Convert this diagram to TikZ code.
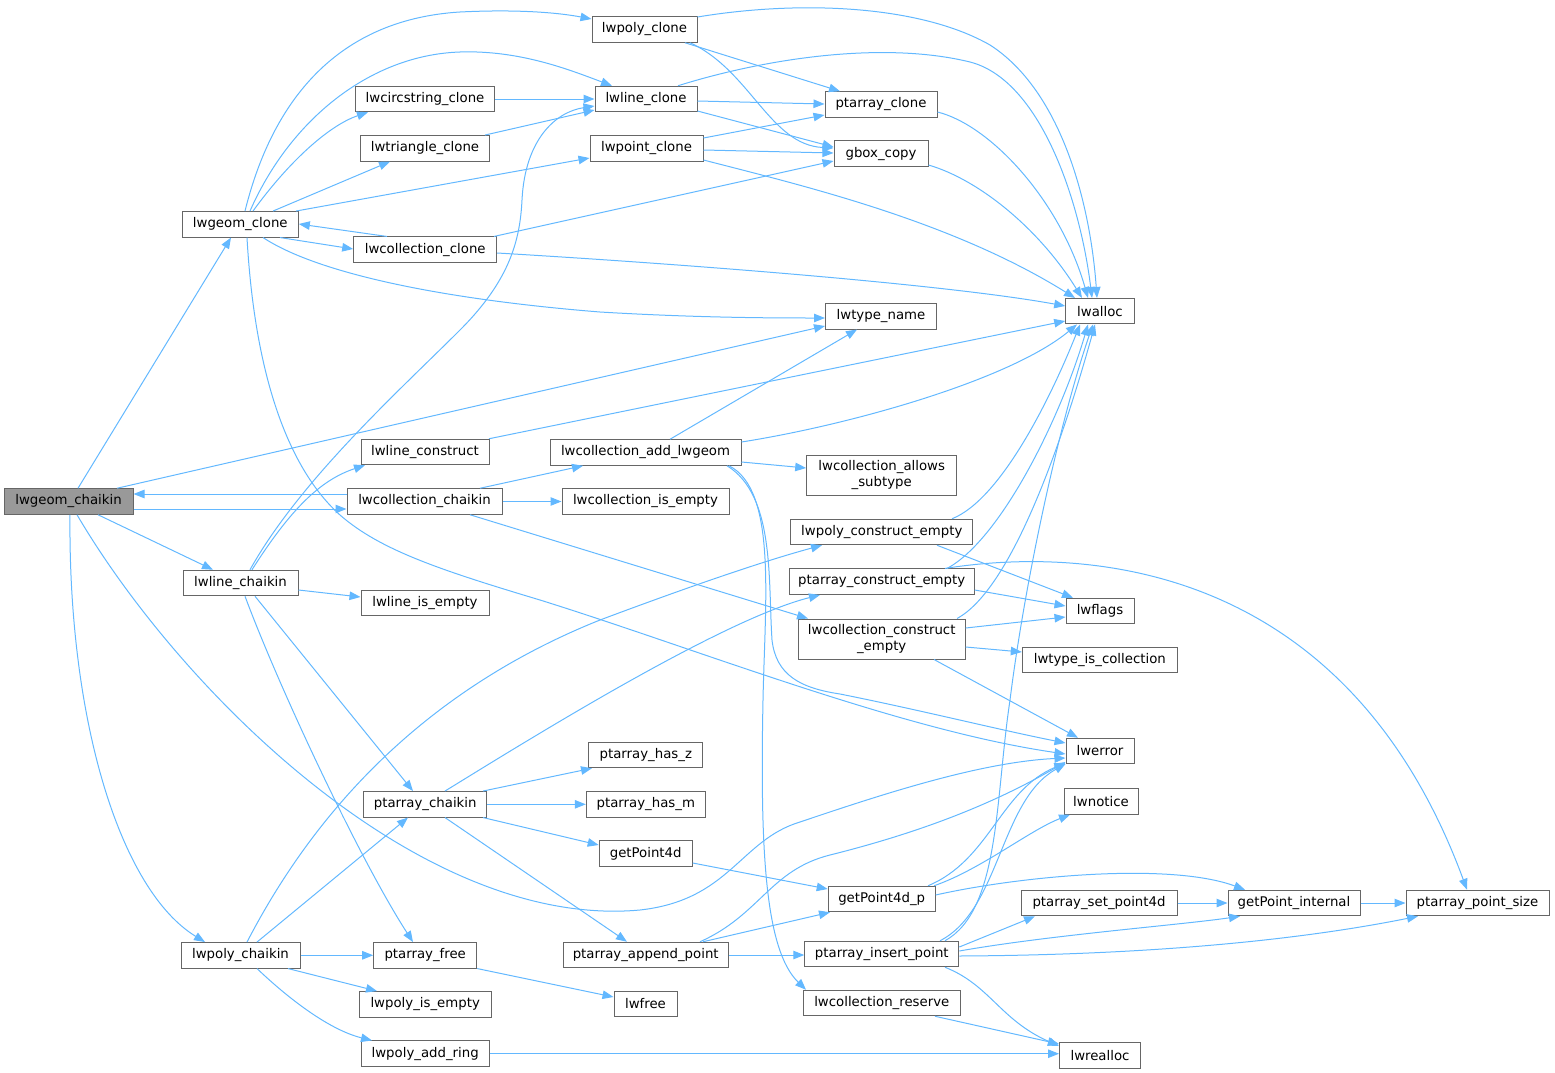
\documentclass[tikz,border=0pt]{standalone}
\usepackage{fontspec}
\setmainfont{DejaVu Sans}
\usetikzlibrary{arrows.meta}
\definecolor{edgec}{HTML}{63B8FF}
\definecolor{boxc}{HTML}{666666}
\definecolor{rootc}{HTML}{999999}
\begin{document}
\begin{tikzpicture}[x=1pt,y=-1pt,
  nb/.style={draw=boxc, fill=white, line width=1pt, minimum height=25.5pt, inner sep=0pt, font=\fontsize{13.3}{15.5}\selectfont, align=center},
  e/.style={draw=edgec, line width=1pt, -{Triangle[length=11pt,width=8.5pt]}}]
\useasboundingbox (0,0) rectangle (1555,1073);
% nodes
\node[nb, fill=rootc, minimum width=129pt] (root) at (68.5,501.5) {lwgeom\_chaikin};
\node[nb, minimum width=116pt] (gclone) at (240.3,224.3) {lwgeom\_clone};
\node[nb, minimum width=115pt] (lchaikin) at (240.5,583) {lwline\_chaikin};
\node[nb, minimum width=119pt] (pchaikin) at (240.5,955.3) {lwpoly\_chaikin};
\node[nb, minimum width=105pt] (polyclone) at (644.5,29.5) {lwpoly\_clone};
\node[nb, minimum width=139pt] (circclone) at (425,99) {lwcircstring\_clone};
\node[nb, minimum width=102pt] (lineclone) at (646,99) {lwline\_clone};
\node[nb, minimum width=129pt] (triclone) at (425,148.3) {lwtriangle\_clone};
\node[nb, minimum width=113pt] (pointclone) at (646.5,148.3) {lwpoint\_clone};
\node[nb, minimum width=143pt] (collclone) at (425.2,249.7) {lwcollection\_clone};
\node[nb, minimum width=112pt] (ptclone) at (881,104.5) {ptarray\_clone};
\node[nb, minimum width=94pt] (gbox) at (881,153.7) {gbox\_copy};
\node[nb, minimum width=111pt] (typename) at (881,316.3) {lwtype\_name};
\node[nb, minimum width=68.6pt] (lwalloc) at (1100,311.2) {lwalloc};
\node[nb, minimum width=128pt] (lconstruct) at (425,452) {lwline\_construct};
\node[nb, minimum width=191pt] (addgeom) at (645.5,452.5) {lwcollection\_add\_lwgeom};
\node[nb, minimum width=150pt, minimum height=40pt] (allows) at (881.7,475) {lwcollection\_allows\\\_subtype};
\node[nb, minimum width=155pt] (cchaikin) at (424.5,501.5) {lwcollection\_chaikin};
\node[nb, minimum width=167pt] (cisempty) at (645.5,501.5) {lwcollection\_is\_empty};
\node[nb, minimum width=182pt] (polyce) at (881.8,532) {lwpoly\_construct\_empty};
\node[nb, minimum width=185pt] (ptce) at (881.7,581.7) {ptarray\_construct\_empty};
\node[nb, minimum width=128pt] (lisempty) at (425,603) {lwline\_is\_empty};
\node[nb, minimum width=68pt] (lwflags) at (1100,611) {lwflags};
\node[nb, minimum width=167pt, minimum height=40pt] (collce) at (881.7,639) {lwcollection\_construct\\\_empty};
\node[nb, minimum width=155pt] (istcoll) at (1099.8,660) {lwtype\_is\_collection};
\node[nb, minimum width=68pt] (lwerror) at (1100,751) {lwerror};
\node[nb, minimum width=114pt] (hasz) at (645.8,755) {ptarray\_has\_z};
\node[nb, minimum width=123pt] (ptchaikin) at (425.2,804.3) {ptarray\_chaikin};
\node[nb, minimum width=119pt] (hasm) at (645.8,804.5) {ptarray\_has\_m};
\node[nb, minimum width=74pt] (lwnotice) at (1101,801.5) {lwnotice};
\node[nb, minimum width=93pt] (getpoint4d) at (645.7,853.5) {getPoint4d};
\node[nb, minimum width=107pt] (gp4dp) at (881.7,899) {getPoint4d\_p};
\node[nb, minimum width=156pt] (setp4d) at (1099,903) {ptarray\_set\_point4d};
\node[nb, minimum width=132pt] (gpinternal) at (1294,903) {getPoint\_internal};
\node[nb, minimum width=143pt] (ptpsize) at (1477.5,903) {ptarray\_point\_size};
\node[nb, minimum width=103pt] (ptfree) at (425.2,955.3) {ptarray\_free};
\node[nb, minimum width=165pt] (appendpt) at (645.7,955) {ptarray\_append\_point};
\node[nb, minimum width=154pt] (insertpt) at (881.8,954) {ptarray\_insert\_point};
\node[nb, minimum width=132pt] (pisempty) at (425.2,1004.3) {lwpoly\_is\_empty};
\node[nb, minimum width=63pt] (lwfree) at (645.5,1004) {lwfree};
\node[nb, minimum width=157pt] (creserve) at (881.8,1003) {lwcollection\_reserve};
\node[nb, minimum width=128pt] (addring) at (425.2,1053.7) {lwpoly\_add\_ring};
\node[nb, minimum width=81pt] (lwrealloc) at (1100,1055.3) {lwrealloc};
% edges
\draw[e] (root.north -| 78,0) -- (gclone.south -| 231,0);
\draw[e] (root.north -| 117,0) -- (typename.west |- 0,326);
\draw[e] (root.east |- 0,509) -- (cchaikin.west |- 0,509);
\draw[e] (cchaikin.west |- 0,494) -- (root.east |- 0,494);
\draw[e] (root.south -| 98,0) -- (lchaikin.north -| 213,0);
\draw[e] (root.south -| 77,0) .. controls (180,690) and (420,930) .. (640,910) .. controls (730,900) and (740,840) .. (800,822) .. controls (880,795) and (980,762) .. (lwerror.west |- 0,758);
\draw[e] (root.south -| 70,0) .. controls (68,720) and (120,890) .. (pchaikin.north -| 205,0);
\draw[e] (gclone.north -| 245,0) .. controls (270,110) and (330,20) .. (460,12) .. controls (520,9) and (560,13) .. (polyclone.west |- 0,19);
\draw[e] (gclone.north -| 250,0) .. controls (290,120) and (370,55) .. (460,52) .. controls (520,50) and (570,70) .. (lineclone.north -| 612,0);
\draw[e] (gclone.north -| 253,0) .. controls (290,160) and (330,125) .. (circclone.south -| 368,0);
\draw[e] (gclone.north -| 273,0) -- (triclone.south -| 390,0);
\draw[e] (gclone.north -| 296,0) -- (pointclone.west |- 0,158);
\draw[e] (gclone.south -| 280,0) -- (collclone.west |- 0,249);
\draw[e] (collclone.north -| 387,0) -- (gclone.east |- 0,224);
\draw[e] (gclone.south -| 263,0) .. controls (320,275) and (450,300) .. (600,312) .. controls (700,318) and (780,318) .. (typename.west |- 0,318);
\draw[e] (gclone.south -| 247,0) .. controls (255,380) and (290,470) .. (340,515) .. controls (380,550) and (440,570) .. (540,600) .. controls (700,650) and (900,730) .. (lwerror.west |- 0,754);
\draw[e] (circclone.east) -- (lineclone.west |- circclone.east);
\draw[e] (triclone.north -| 485,0) -- (lineclone.west |- 0,110);
\draw[e] (lchaikin.north -| 250,0) .. controls (300,480) and (400,390) .. (460,330) .. controls (510,280) and (520,240) .. (522,200) .. controls (525,140) and (555,112) .. (lineclone.west |- 0,106);
\draw[e] (lchaikin.north -| 252,0) .. controls (290,510) and (320,480) .. (lconstruct.south -| 365,0);
\draw[e] (lchaikin.east |- 0,590) -- (lisempty.west |- 0,597);
\draw[e] (lchaikin.south -| 255,0) -- (ptchaikin.north -| 413,0);
\draw[e] (lchaikin.south -| 245,0) .. controls (280,690) and (360,860) .. (ptfree.north -| 413,0);
\draw[e] (lconstruct.north -| 489,0) -- (lwalloc.west |- 0,321);
\draw[e] (cchaikin.north -| 480,0) -- (addgeom.south -| 583,0);
\draw[e] (cchaikin.east) -- (cisempty.west);
\draw[e] (cchaikin.south -| 470,0) -- (collce.north -| 808,0);
\draw[e] (addgeom.north -| 670,0) -- (typename.south -| 857,0);
\draw[e] (addgeom.east |- 0,442) .. controls (850,425) and (1010,380) .. (lwalloc.south -| 1077,0);
\draw[e] (addgeom.east |- 0,462) -- (allows.west |- 0,468);
\draw[e] (addgeom.south -| 727,0) .. controls (775,495) and (768,580) .. (772,640) .. controls (776,675) and (800,688) .. (840,694) .. controls (920,710) and (1000,730) .. (lwerror.west |- 0,743);
\draw[e] (addgeom.south -| 729,0) .. controls (777,490) and (765,600) .. (763,700) .. controls (760,850) and (765,950) .. (creserve.north -| 806,0);
\draw[e] (pchaikin.north -| 247,0) .. controls (300,840) and (400,700) .. (600,620) .. controls (680,590) and (760,562) .. (polyce.south -| 822,0);
\draw[e] (pchaikin.north -| 257,0) -- (ptchaikin.south -| 408,0);
\draw[e] (pchaikin.east) -- (ptfree.west);
\draw[e] (pchaikin.south -| 288,0) -- (pisempty.north -| 377,0);
\draw[e] (pchaikin.south -| 257,0) .. controls (290,1000) and (330,1030) .. (addring.north -| 372,0);
\draw[e] (addring.east) -- (lwrealloc.west |- addring.east);
\draw[e] (ptfree.south east) -- (lwfree.west |- 0,997);
\draw[e] (ptchaikin.north -| 445,0) .. controls (520,745) and (720,620) .. (ptce.south -| 820,0);
\draw[e] (ptchaikin.north -| 483,0) -- (hasz.south -| 592,0);
\draw[e] (ptchaikin.east) -- (hasm.west |- ptchaikin.east);
\draw[e] (ptchaikin.south -| 483,0) -- (getpoint4d.west |- 0,845);
\draw[e] (ptchaikin.south -| 445,0) -- (appendpt.north -| 627,0);
\draw[e] (getpoint4d.east |- 0,863) -- (gp4dp.west |- 0,889);
\draw[e] (appendpt.north -| 700,0) .. controls (760,915) and (770,870) .. (830,855) .. controls (930,830) and (1000,800) .. (lwerror.west |- 0,762);
\draw[e] (appendpt.north -| 703,0) -- (gp4dp.south -| 830,0);
\draw[e] (appendpt.east) -- (insertpt.west |- appendpt.east);
\draw[e] (gp4dp.north -| 928,0) .. controls (990,860) and (1000,790) .. (lwerror.west |- 0,763);
\draw[e] (gp4dp.north -| 934,0) .. controls (980,870) and (1030,830) .. (lwnotice.south -| 1070,0);
\draw[e] (gp4dp.east |- 0,895) .. controls (1020,876) and (1170,862) .. (gpinternal.north -| 1245,0);
\draw[e] (insertpt.north -| 945,0) .. controls (1000,910) and (995,800) .. (1010,700) .. controls (1025,580) and (1060,420) .. (lwalloc.south -| 1093,0);
\draw[e] (insertpt.north -| 940,0) .. controls (1000,910) and (1000,800) .. (lwerror.west |- 0,764);
\draw[e] (insertpt.east |- 0,947) -- (setp4d.south -| 1035,0);
\draw[e] (insertpt.east |- 0,951) .. controls (1050,935) and (1180,925) .. (gpinternal.south -| 1240,0);
\draw[e] (insertpt.east |- 0,956) .. controls (1150,955) and (1300,940) .. (ptpsize.south -| 1418,0);
\draw[e] (insertpt.south -| 945,0) .. controls (990,985) and (1000,1020) .. (lwrealloc.west |- 0,1046);
\draw[e] (setp4d.east) -- (gpinternal.west |- setp4d.east);
\draw[e] (gpinternal.east) -- (ptpsize.west);
\draw[e] (ptce.north -| 945,0) .. controls (1060,550) and (1340,545) .. (ptpsize.north -| 1467,0);
\draw[e] (ptce.north -| 947,0) .. controls (1000,540) and (1060,420) .. (lwalloc.south -| 1088,0);
\draw[e] (ptce.east |- 0,590) -- (lwflags.west |- 0,606);
\draw[e] (polyce.north -| 952,0) .. controls (1000,500) and (1050,400) .. (lwalloc.south -| 1080,0);
\draw[e] (polyce.south -| 937,0) -- (lwflags.north -| 1073,0);
\draw[e] (collce.north -| 957,0) .. controls (1010,590) and (1060,450) .. (lwalloc.south -| 1095,0);
\draw[e] (collce.east |- 0,628) -- (lwflags.west |- 0,617);
\draw[e] (collce.east |- 0,647) -- (istcoll.west |- 0,652);
\draw[e] (collce.south -| 934,0) -- (lwerror.north -| 1078,0);
\draw[e] (polyclone.east |- 0,17) .. controls (800,0) and (920,5) .. (990,45) .. controls (1060,90) and (1090,200) .. (lwalloc.north -| 1097,0);
\draw[e] (polyclone.south -| 685,0) -- (ptclone.north -| 840,0);
\draw[e] (polyclone.south -| 690,0) .. controls (750,70) and (770,145) .. (gbox.west |- 0,148);
\draw[e] (lineclone.east |- 0,101) -- (ptclone.west |- 0,104);
\draw[e] (lineclone.east |- 0,111) -- (gbox.west |- 0,147);
\draw[e] (lineclone.north -| 678,0) .. controls (760,60) and (880,40) .. (970,62) .. controls (1040,80) and (1080,200) .. (lwalloc.north -| 1092,0);
\draw[e] (pointclone.east |- 0,138) -- (ptclone.west |- 0,115);
\draw[e] (pointclone.east |- 0,150) -- (gbox.west |- 0,153);
\draw[e] (pointclone.east |- 0,160) .. controls (800,185) and (950,220) .. (lwalloc.north -| 1075,0);
\draw[e] (ptclone.east |- 0,112) .. controls (990,125) and (1060,200) .. (lwalloc.north -| 1088,0);
\draw[e] (gbox.east |- 0,165) .. controls (980,180) and (1040,230) .. (lwalloc.north -| 1082,0);
\draw[e] (collclone.north -| 494,0) -- (gbox.west |- 0,161);
\draw[e] (collclone.east |- 0,253) .. controls (700,265) and (950,285) .. (lwalloc.west |- 0,306);
\draw[e] (creserve.south -| 935,0) -- (lwrealloc.west |- 0,1044);
\end{tikzpicture}
\end{document}
